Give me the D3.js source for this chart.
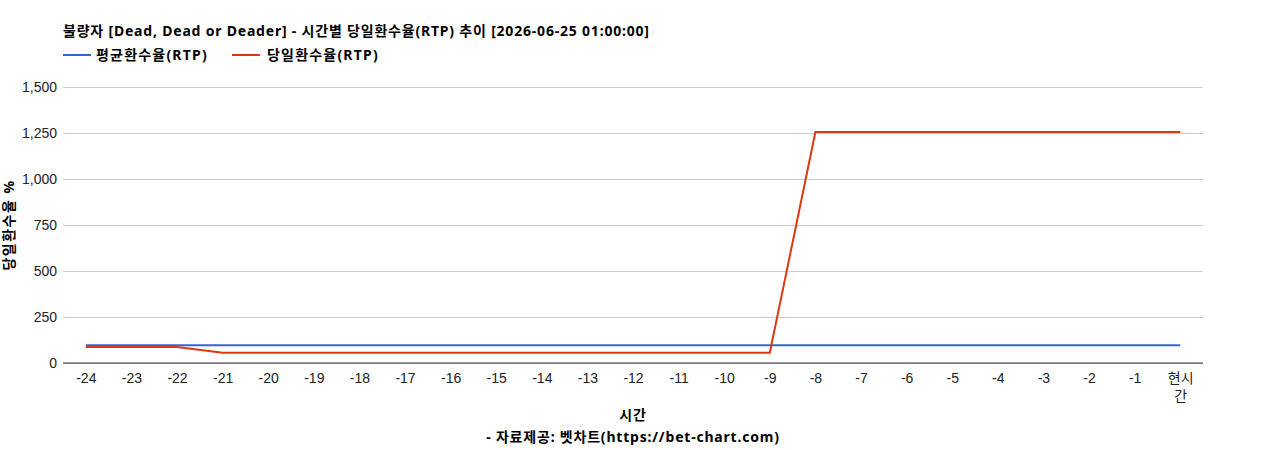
<!DOCTYPE html>
<html>
<head>
<meta charset="utf-8">
<title>RTP</title>
<script src="https://d3js.org/d3.v7.min.js"></script>
<style>
    body { margin: 0; background: #fff; }
    svg text { font-family: Arial, "Liberation Sans", "Noto Sans CJK KR", sans-serif; }
    .bold { font-family: "Noto Sans", "Noto Sans CJK KR", sans-serif; font-weight: bold; letter-spacing: 0.8px; }
    .grid line { stroke: #ccc; }
    .grid path { display: none; }
</style>
</head>
<body>
<svg width="1268" height="450"></svg>
<script>
// data
var hours = ["-24","-23","-22","-21","-20","-19","-18","-17","-16","-15","-14","-13","-12",
             "-11","-10","-9","-8","-7","-6","-5","-4","-3","-2","-1","현시간"];
var avgRtp = [96,96,96,96,96,96,96,96,96,96,96,96,96,96,96,96,96,96,96,96,96,96,96,96,96];
var dayRtp = [87,87,87,56,56,56,56,56,56,56,56,56,56,56,56,56,1255,1255,1255,1255,1255,1255,1255,1255,1255];
var yTicks = [0,250,500,750,1000,1250,1500];
var seriesNames = ["평균환수율(RTP)", "당일환수율(RTP)"];
var seriesColors = ["#3366cc", "#dc3912"];

var svg = d3.select("svg"),
    plotLeft = 63, plotRight = 1203, plotTop = 87, plotBottom = 363

var x = d3.scalePoint().domain(hours).range([plotLeft, plotRight]).padding(0.5),
    y = d3.scaleLinear().domain([0, 1500]).range([plotBottom, plotTop])

svg.append("text")
   .attr("class", "bold")
   .attr("x", plotLeft).attr("y", 36)
   .attr("font-size", "14px")
   .text("불량자 [Dead, Dead or Deader] - 시간별 당일환수율(RTP) 추이 [2026-06-25 01:00:00]")

// legend
var legLine = [63, 232], legText = [96, 267]
seriesNames.forEach(function(name, i) {
    svg.append("line")
       .attr("x1", legLine[i]).attr("x2", legLine[i] + 28)
       .attr("y1", 55).attr("y2", 55)
       .attr("stroke", seriesColors[i]).attr("stroke-width", 2)
    svg.append("text")
       .attr("class", "bold")
       .attr("x", legText[i]).attr("y", 60)
       .attr("font-size", "14px")
       .style("letter-spacing", "1.2px")
       .text(name)
})

// gridlines + y labels
svg.append("g")
   .attr("class", "grid")
   .attr("transform", "translate(" + plotLeft + ",0)")
   .call(d3.axisLeft(y).tickValues(yTicks).tickSize(-(plotRight - plotLeft)).tickFormat(""))

svg.append("g")
   .attr("transform", "translate(" + (plotLeft - 6) + ",0)")
   .call(d3.axisLeft(y).tickValues(yTicks).tickSize(0).tickFormat(d3.format(",")))
   .call(function(g) { g.select(".domain").remove() })
   .selectAll("text")
   .attr("font-size", "14px").attr("fill", "#222")
   .attr("font-family", "Arial, 'Liberation Sans', sans-serif")
   .attr("x", 0)

// x axis
var gx = svg.append("g")
    .attr("transform", "translate(0," + plotBottom + ")")
    .call(d3.axisBottom(x).tickSize(0).tickPadding(10))
gx.select(".domain").attr("stroke", "#333").attr("d", "M" + plotLeft + ",0H" + plotRight)
gx.selectAll("text")
  .attr("font-size", "14px").attr("fill", "#222")
  .attr("font-family", "Arial, 'Liberation Sans', 'Noto Sans CJK KR', sans-serif")
  .each(function(d) {
      if (d === "현시간") {
          var t = d3.select(this).text("")
          t.append("tspan").attr("x", 0).attr("dy", "0.71em").text("현시")
          t.append("tspan").attr("x", 0).attr("dy", "1.3em").text("간")
          t.attr("dy", null)
      }
  })

// lines
var line = d3.line()
    .x(function(d, i) { return x(hours[i]) })
    .y(function(d) { return y(d) })

;[avgRtp, dayRtp].forEach(function(s, i) {
    svg.append("path")
       .datum(s)
       .attr("fill", "none")
       .attr("stroke", seriesColors[i])
       .attr("stroke-width", 2)
       .attr("d", line)
})

// axis titles
svg.append("text")
   .attr("class", "bold")
   .attr("transform", "translate(14," + ((plotTop + plotBottom) / 2) + ") rotate(-90)")
   .attr("text-anchor", "middle")
   .attr("font-size", "14px")
   .style("letter-spacing", "1.5px")
   .text("당일환수율 %")

svg.append("text")
   .attr("class", "bold")
   .attr("x", (plotLeft + plotRight) / 2).attr("y", 420)
   .attr("text-anchor", "middle")
   .attr("font-size", "14px")
   .text("시간")

svg.append("text")
   .attr("class", "bold")
   .attr("x", (plotLeft + plotRight) / 2).attr("y", 442)
   .attr("text-anchor", "middle")
   .attr("font-size", "14px")
   .text("- 자료제공: 벳차트(https://bet-chart.com)")
</script>
</body>
</html>
